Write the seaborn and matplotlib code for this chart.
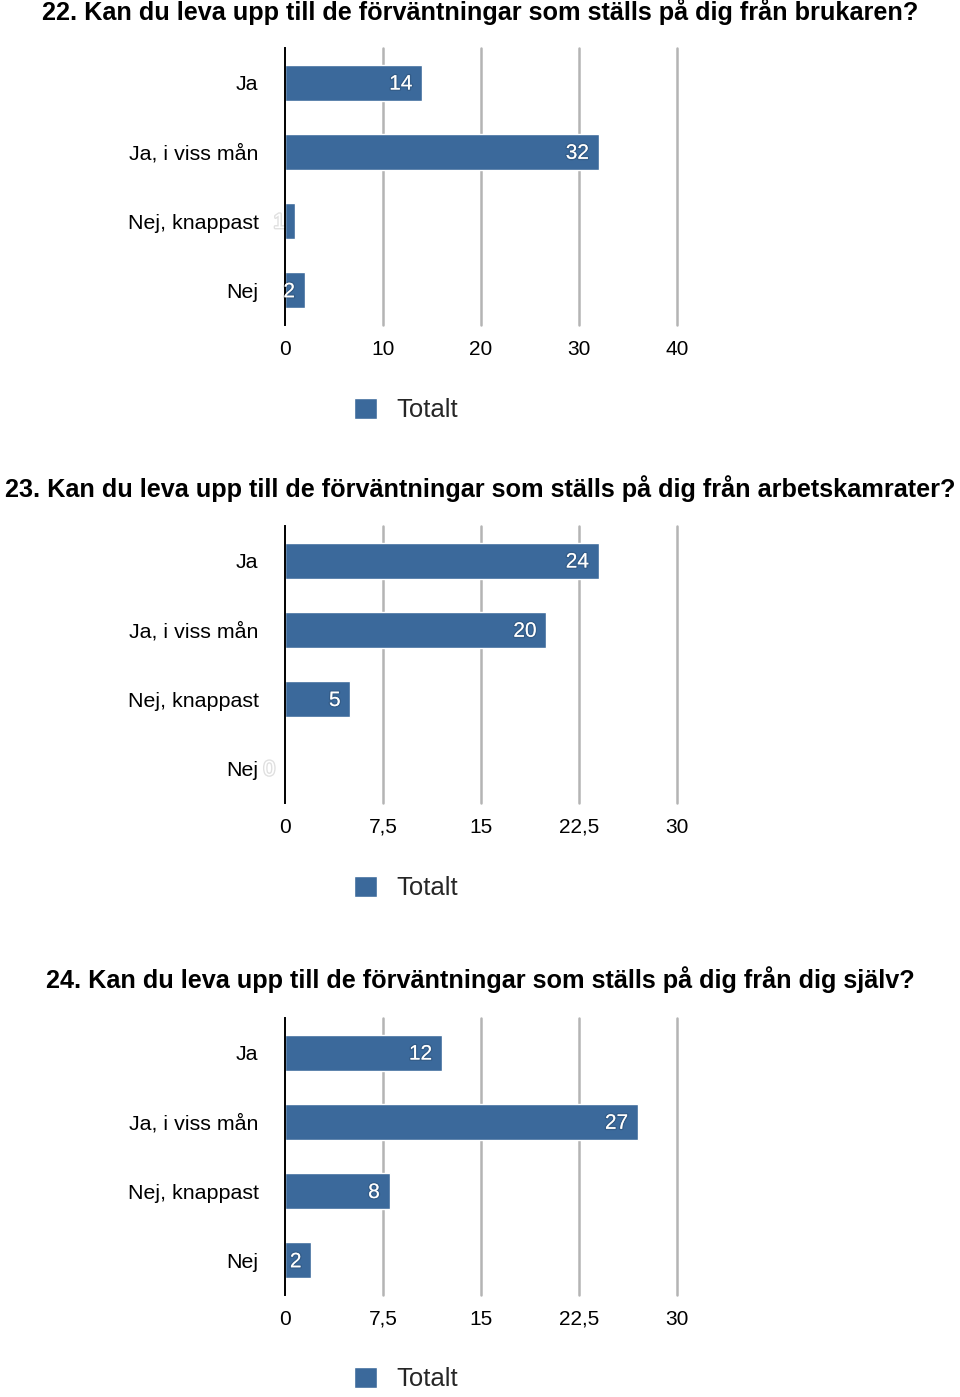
import matplotlib
matplotlib.use("Agg")
import matplotlib.pyplot as plt
import matplotlib.patheffects as pe
import seaborn as sns

# Data
CATEGORIES = ["Ja", "Ja, i viss mån", "Nej, knappast", "Nej"]
TITLES = [
    "22. Kan du leva upp till de förväntningar som ställs på dig från brukaren?",
    "23. Kan du leva upp till de förväntningar som ställs på dig från arbetskamrater?",
    "24. Kan du leva upp till de förväntningar som ställs på dig från dig själv?",
]
VALUES_22 = [14, 32, 1, 2]
VALUES_23 = [24, 20, 5, 0]
VALUES_24 = [12, 27, 8, 2]
XTICKS_22 = [0, 10, 20, 30, 40]
XTICKS_23 = [0, 7.5, 15, 22.5, 30]
XTICKS_24 = [0, 7.5, 15, 22.5, 30]
LEGEND_LABEL = "Totalt"

BAR_COLOR = "#3B699B"
GRID_COLOR = "#B4B4B4"
W, H = 960, 1397

sns.set_theme(style="white")
plt.rcParams["font.family"] = ["Liberation Sans", "DejaVu Sans"]


def fmt_tick(t):
    s = f"{t:g}"
    return s.replace(".", ",")


def draw_panel(fig, title, values, xticks, title_y, ax_top, ax_bottom, legend_y):
    fig.text(0.5, 1 - title_y / H, title, ha="center", va="center",
             fontsize=18.2, fontweight="bold", color="black")

    ax = fig.add_axes([285 / W, 1 - ax_bottom / H, 392 / W, (ax_bottom - ax_top) / H])
    sns.barplot(x=values, y=CATEGORIES, orient="h", color=BAR_COLOR,
                width=0.52, ax=ax, label=LEGEND_LABEL, saturation=1)
    if ax.get_legend() is not None:
        ax.get_legend().remove()
    ax.set_xlim(xticks[0], xticks[-1])
    ax.set_ylim(3.5, -0.5)
    ax.set_xticks(xticks)
    ax.set_xticklabels([fmt_tick(t) for t in xticks])
    ax.set_xlabel("")
    ax.set_ylabel("")

    # vertical grid lines (0 is the black axis line)
    for t in xticks[1:]:
        ax.axvline(t, color=GRID_COLOR, lw=1.8, zorder=0, clip_on=False)
    for s in ["top", "right", "bottom"]:
        ax.spines[s].set_visible(False)
    ax.spines["left"].set_color("black")
    ax.spines["left"].set_linewidth(1.4)
    ax.spines["left"].set_zorder(5)

    ax.tick_params(axis="x", length=0, pad=10.5, labelsize=15, labelcolor="black")
    ax.tick_params(axis="y", length=0, pad=19, labelsize=15.4, labelcolor="black")

    for i, v in enumerate(values):
        ax.annotate(str(v), (v, i), xytext=(-7, -1), textcoords="offset points",
                    ha="right", va="center", fontsize=15, color="white", zorder=6,
                    path_effects=[pe.withStroke(linewidth=2, foreground=(0, 0, 0, 0.12))])

    handles, labels = ax.get_legend_handles_labels()
    fig.legend(handles[:1], labels[:1], loc="center",
               bbox_to_anchor=(406 / W, 1 - legend_y / H), frameon=False,
               fontsize=18.5, handlelength=0.9, handleheight=0.9, handletextpad=0.75)
    return ax


fig = plt.figure(figsize=(W / 100, H / 100), dpi=100)
fig.patch.set_facecolor("white")

draw_panel(fig, TITLES[0], VALUES_22, XTICKS_22, 12, 48, 325, 410)
draw_panel(fig, TITLES[1], VALUES_23, XTICKS_23, 489, 526, 803, 888)
draw_panel(fig, TITLES[2], VALUES_24, XTICKS_24, 980, 1018, 1295, 1379)

fig.savefig("out.png", dpi=100, facecolor="white")
